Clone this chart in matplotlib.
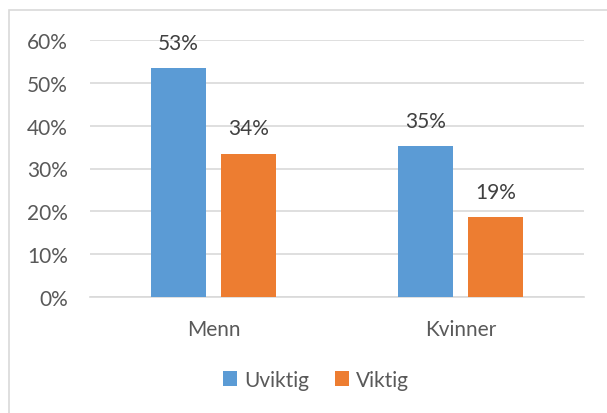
import matplotlib.pyplot as plt
import matplotlib.patches as mpatches
import numpy as np

# Dados
kategorier = ['Menn', 'Kvinner']
uviktig = [0.535, 0.353]
viktig = [0.335, 0.187]
etiketter_uviktig = ['53%', '35%']
etiketter_viktig = ['34%', '19%']

blaa = '#5B9BD5'
oransje = '#ED7D31'
tekst = '#595959'
grid = '#D9D9D9'
fs = 15

plt.rcParams['font.family'] = ['Lato', 'DejaVu Sans']

fig = plt.figure(figsize=(6.07, 4.14), dpi=100)
ax = fig.add_axes([90/607, 1-298/414, 494/607, (298-41)/414])

x = np.arange(len(kategorier))
b = 0.223
off = 0.1417
ax.bar(x - off, uviktig, b, color=blaa, label='Uviktig', zorder=3)
ax.bar(x + off, viktig, b, color=oransje, label='Viktig', zorder=3)

for xi, v, s in zip(x - off, uviktig, etiketter_uviktig):
    ax.annotate(s, (xi, v), xytext=(0, 11), textcoords='offset points',
                ha='center', va='bottom', fontsize=fs, color='#404040')
for xi, v, s in zip(x + off, viktig, etiketter_viktig):
    ax.annotate(s, (xi, v), xytext=(0, 11), textcoords='offset points',
                ha='center', va='bottom', fontsize=fs, color='#404040')

ax.set_xlim(-0.5, 1.5)
ax.set_ylim(0, 0.6)
ax.set_yticks(np.arange(0, 0.61, 0.1))
ax.set_yticklabels([f'{int(round(t*100))}%' for t in np.arange(0, 0.61, 0.1)])
ax.set_xticks(x)
ax.set_xticklabels(kategorier)
ax.tick_params(axis='both', length=0, labelsize=fs, labelcolor=tekst)
ax.tick_params(axis='y', pad=16)
ax.tick_params(axis='x', pad=16)
ax.grid(axis='y', color=grid, linewidth=1.2, zorder=0)
for s in ['top', 'right', 'left']:
    ax.spines[s].set_visible(False)
ax.spines['bottom'].set_color(grid)
ax.spines['bottom'].set_linewidth(1.2)

leg = fig.legend(loc='center', bbox_to_anchor=(316/607, 1-381/414), ncol=2,
                 frameon=False, fontsize=fs, handlelength=0.7, handleheight=0.7,
                 handletextpad=0.35, columnspacing=1.2)
for t in leg.get_texts():
    t.set_color(tekst)

# ramme rundt figuren
fig.patches.append(mpatches.Rectangle((9/607, -0.1), 1.2, 1 - 11/414 + 0.1,
                                      transform=fig.transFigure, fill=False,
                                      edgecolor=grid, linewidth=1.2))

fig.savefig('out.png', dpi=100)
